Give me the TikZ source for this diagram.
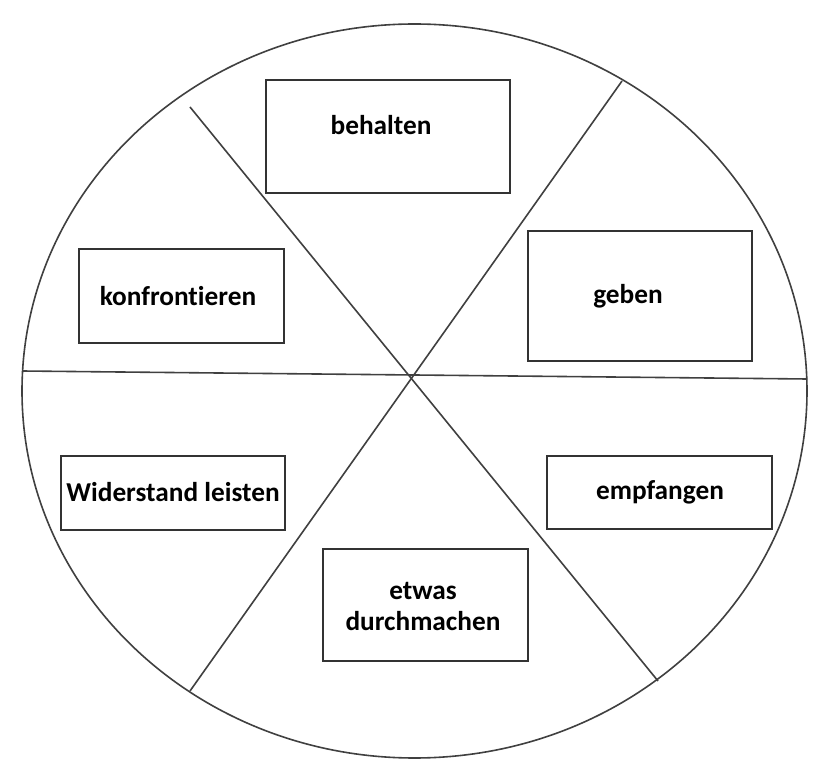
\documentclass[tikz,border=0pt]{standalone}
\usepackage{fontspec}
\usetikzlibrary{shapes.geometric}
\setmainfont[Ligatures={NoCommon}]{Carlito}
\begin{document}
\begin{tikzpicture}[x=1pt,y=-1pt,
  divline/.style={draw=black!75, line width=1.6pt},
  box/.style={draw=black!80, line width=2pt, fill=white, inner sep=0pt},
  lbl/.style={font=\fontsize{27.3}{31}\selectfont\bfseries, text=black, inner sep=0pt, align=center}]
\useasboundingbox (0,0) rectangle (831,783);
\fill[white] (0,0) rectangle (831,783);
% outer circle
\node[draw=black!75, line width=1.6pt, ellipse, minimum width=785pt, minimum height=734pt, inner sep=0pt] (wheel) at (414.5,391) {};
% division lines
\coordinate (hl) at (22,371);
\coordinate (hr) at (807,379);
\coordinate (d1a) at (190,107);
\coordinate (d1b) at (658,681);
\coordinate (d2a) at (622,81);
\coordinate (d2b) at (190,691);
\draw[divline] (hl) -- (hr);
\draw[divline] (d1a) -- (d1b);
\draw[divline] (d2a) -- (d2b);
% boxes
\node[box, minimum width=244pt, minimum height=113pt] (bbeh) at (388,136.5) {};
\node[box, minimum width=205pt, minimum height=94pt] (bkon) at (181.5,296) {};
\node[box, minimum width=224pt, minimum height=130pt] (bgeb) at (640,296.5) {};
\node[box, minimum width=224pt, minimum height=74pt] (bwid) at (172.5,493) {};
\node[box, minimum width=225pt, minimum height=73pt] (bemp) at (659.5,492.5) {};
\node[box, minimum width=205pt, minimum height=112pt] (betw) at (425.5,605) {};
% labels
\node[lbl] (tbeh) at (381,125) {behalten};
\node[lbl] (tkon) at (178,296) {konfrontieren};
\node[lbl] (tgeb) at (628,296) {geben};
\node[lbl] (twid) at (173,492) {Widerstand leisten};
\node[lbl] (temp) at (660,492) {empfangen};
\node[lbl] (tetw) at (423,606) {etwas\\durchmachen};
\end{tikzpicture}
\end{document}
